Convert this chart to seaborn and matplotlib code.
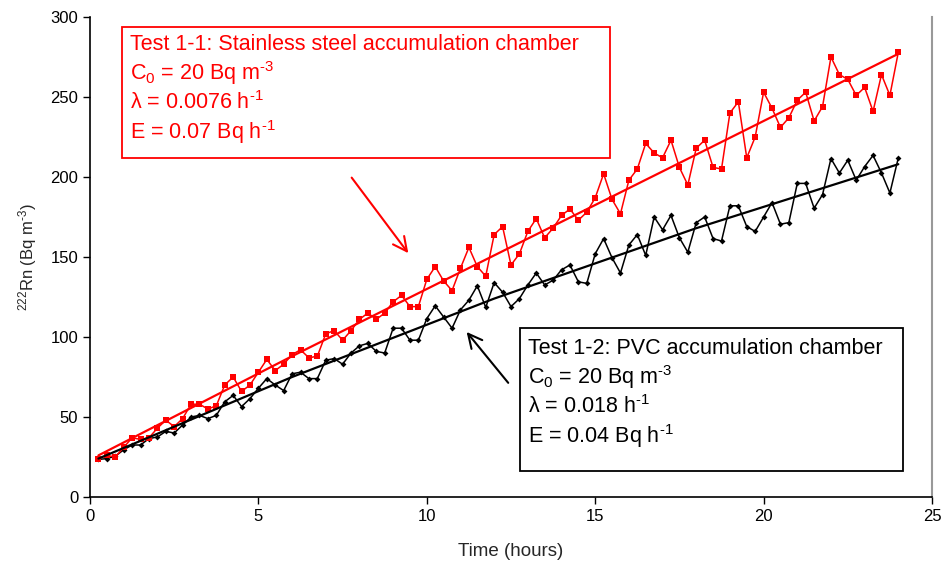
import numpy as np
import pandas as pd
import matplotlib
matplotlib.use("Agg")
import matplotlib.pyplot as plt
import seaborn as sns
from matplotlib.patches import Rectangle

# sampling times (hours), one reading every 15 min
time_h = np.arange(1, 97) * 0.25

# Test 1-1: stainless steel chamber (red)
rn_steel = [24, 26, 25, 31, 37, 36, 37, 43, 48, 44, 49, 58,
            58, 55, 57, 70, 75, 66, 70, 78, 86, 79, 83, 89,
            92, 87, 88, 102, 104, 98, 104, 111, 115, 111, 115, 122,
            126, 119, 119, 136, 144, 135, 129, 143, 156, 144, 138, 164,
            169, 145, 152, 166, 174, 162, 168, 176, 180, 173, 178, 187,
            202, 186, 177, 198, 205, 221, 215, 212, 223, 206, 195, 218,
            223, 206, 205, 240, 247, 212, 225, 253, 243, 231, 237, 248,
            253, 235, 244, 275, 264, 261, 251, 256, 241, 264, 251, 278]

# Test 1-2: PVC chamber (black)
rn_pvc = [23.5, 24, 25.5, 29.5, 32.5, 32.5, 36.5, 37.5, 41, 40, 45, 50,
          51, 49, 51, 59.5, 63.5, 56.5, 61.5, 68, 74, 70, 66.5, 77,
          78, 74, 74, 85.5, 86.5, 83, 90, 94.5, 96, 91, 90, 105.5,
          105.5, 98, 98, 111.5, 119.5, 112.5, 105.5, 117, 123, 132, 118.5, 134,
          128, 119, 124, 132.5, 140, 132.5, 135.5, 142, 145, 134.5, 133.5, 152,
          161.5, 149.5, 140, 157.5, 164, 151, 175, 167, 176, 162, 153, 171.5,
          175, 161.5, 160, 182, 182, 169, 166, 175, 184, 170.5, 171.5, 196,
          196, 180.5, 189, 211.5, 202.5, 210.5, 198, 206.5, 213.5, 202.5, 190, 212]

# fitted model curves, read at a few times
fit_t = [0.25, 6, 12, 18, 24]
fit_steel = [26, 88, 151, 214, 277]
fit_pvc = [24, 75, 124, 168, 208]

df = pd.DataFrame({"time": time_h, "steel": rn_steel, "pvc": rn_pvc})
fit = pd.DataFrame({"time": fit_t, "steel": fit_steel, "pvc": fit_pvc})

sns.set_style("ticks")
plt.rcParams['font.family'] = ['Liberation Sans', 'DejaVu Sans']
plt.rcParams['mathtext.fontset'] = 'custom'
plt.rcParams['mathtext.rm'] = 'Liberation Sans'
plt.rcParams['mathtext.it'] = 'Liberation Sans:italic'

fig = plt.figure(figsize=(9.41, 5.71), dpi=100)
ax = fig.add_axes([90/941, 1-497/571, 842/941, 480/571])

sns.lineplot(x="time", y="pvc", data=df, ax=ax, color="black", lw=1.1,
             marker="D", markersize=3, markeredgewidth=0)
sns.lineplot(x="time", y="steel", data=df, ax=ax, color="red", lw=1.1,
             marker="s", markersize=5, markeredgewidth=0)
sns.lineplot(x="time", y="pvc", data=fit, ax=ax, color="black", lw=1.6)
sns.lineplot(x="time", y="steel", data=fit, ax=ax, color="red", lw=1.6)

ax.set_xlim(0, 25)
ax.set_ylim(0, 300)
ax.set_xticks(range(0, 26, 5))
ax.set_yticks(range(0, 301, 50))
ax.tick_params(direction="out", length=5, width=1, labelsize=12, colors="black")
ax.set_xlabel("Time (hours)", fontsize=13.5, labelpad=14)
ax.set_ylabel(r"$^{222}$Rn (Bq m$^{\text{-}3}$)", fontsize=12, labelpad=8)
ax.spines['top'].set_visible(False)
ax.spines['right'].set_color("#999999")
ax.spines['right'].set_linewidth(1.5)
for s in ['left', 'bottom']:
    ax.spines[s].set_color("black")
    ax.spines[s].set_linewidth(1.2)

# annotation boxes
ax.add_patch(Rectangle((0.95, 211.9), 14.49, 81.85, fill=False, ec="red", lw=1.3, clip_on=False))
red_lines = ["Test 1-1: Stainless steel accumulation chamber",
             r"C$_0$ = 20 Bq m$^{\text{-}3}$",
             r"λ = 0.0076 h$^{\text{-}1}$",
             r"E = 0.07 Bq h$^{\text{-}1}$"]
for txt, yv in zip(red_lines, [283, 265, 246.5, 228]):
    ax.text(1.19, yv, txt, color="red", fontsize=15.5, va="center", ha="left")

ax.add_patch(Rectangle((12.77, 16.25), 11.37, 89.35, fill=False, ec="black", lw=1.3, clip_on=False))
blk_lines = ["Test 1-2: PVC accumulation chamber",
             r"C$_0$ = 20 Bq m$^{\text{-}3}$",
             r"λ = 0.018 h$^{\text{-}1}$",
             r"E = 0.04 Bq h$^{\text{-}1}$"]
for txt, yv in zip(blk_lines, [93, 75, 56.5, 38]):
    ax.text(13.0, yv, txt, color="black", fontsize=15.5, va="center", ha="left")

ax.annotate("", xy=(9.5, 151), xytext=(7.72, 201),
            arrowprops=dict(arrowstyle="->,head_length=1.0,head_width=0.5", color="red", lw=1.5))
ax.annotate("", xy=(11.13, 104.5), xytext=(12.47, 70),
            arrowprops=dict(arrowstyle="->,head_length=1.0,head_width=0.5", color="black", lw=1.5))

plt.savefig("out.png", dpi=100)
